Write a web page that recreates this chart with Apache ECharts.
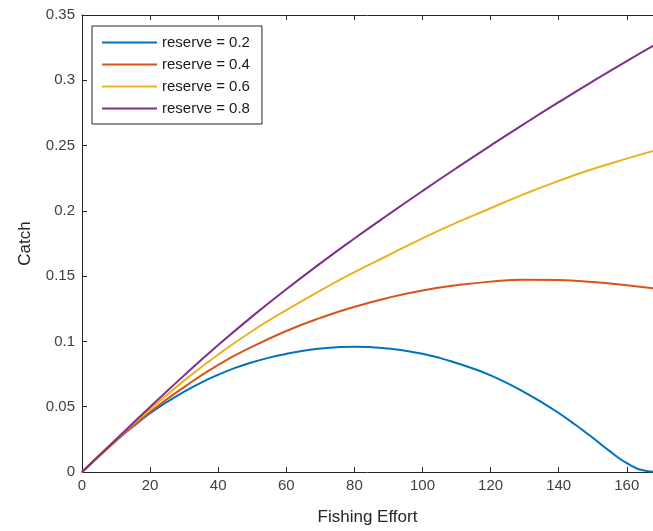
<!DOCTYPE html>
<html>
<head>
<meta charset="utf-8">
<script src="https://cdn.jsdelivr.net/npm/echarts@6/dist/echarts.min.js"></script>
<style>html,body{margin:0;padding:0;background:#fff}#c{width:653px;height:531px}</style>
</head>
<body>
<div id="c"></div>
<script>
const effort = [0, 10, 20, 30, 40, 50, 60, 70, 80, 90, 100, 110, 120, 130, 140, 150, 160, 170];
const effortFine = [0, 5, 10, 15, 20, 25, 30, 35, 40, 45, 50, 55, 60, 65, 70, 75, 80, 85, 90, 95, 100, 105, 110, 115, 120, 125, 130, 135, 140, 145, 150, 155, 160, 165, 170];
const reserve02 = [0, 0.012, 0.024, 0.0348, 0.045, 0.0537, 0.0615, 0.0685, 0.0745, 0.0797, 0.0840, 0.0876, 0.0905, 0.0928, 0.0945, 0.0956, 0.0960, 0.0956, 0.0945, 0.0928, 0.0905, 0.0874, 0.0835, 0.0791, 0.0740, 0.0678, 0.0610, 0.0535, 0.0452, 0.0360, 0.0262, 0.0160, 0.0068, 0.0012, 0];
const reserve04 = [0, 0.024, 0.046, 0.065, 0.082, 0.096, 0.108, 0.118, 0.1265, 0.1335, 0.1390, 0.1430, 0.1458, 0.1472, 0.1470, 0.1455, 0.1430, 0.1400];
const reserve06 = [0, 0.025, 0.048, 0.070, 0.090, 0.108, 0.124, 0.139, 0.153, 0.166, 0.179, 0.191, 0.202, 0.213, 0.223, 0.232, 0.240, 0.2475];
const reserve08 = [0, 0.025, 0.0498, 0.0740, 0.0972, 0.1192, 0.1400, 0.1598, 0.1788, 0.1972, 0.2152, 0.2328, 0.2500, 0.2668, 0.2832, 0.2992, 0.3147, 0.3297];
const seriesNames = ['reserve = 0.2', 'reserve = 0.4', 'reserve = 0.6', 'reserve = 0.8'];
const seriesData = [reserve02, reserve04, reserve06, reserve08];
const seriesX = [effortFine, effort, effort, effort];
const colors = ['#0072BD', '#D95319', '#EDB120', '#7E2F8E'];

const font = 'Arial, "Liberation Sans", Helvetica, sans-serif';
const axisColor = '#262626';
const labelColor = '#404040';

const chart = echarts.init(document.getElementById('c'), null, {renderer: 'canvas'});
chart.setOption({
  animation: false,
  backgroundColor: '#fff',
  color: colors,
  grid: {left: 82, top: 15, right: 0, bottom: 58, containLabel: false},
  legend: {
    orient: 'vertical',
    left: 92, top: 26,
    padding: [8, 12, 7, 10],
    itemWidth: 55, itemHeight: 2, itemGap: 5,
    icon: 'rect',
    borderColor: axisColor, borderWidth: 1, borderRadius: 0,
    backgroundColor: '#fff',
    textStyle: {fontFamily: font, fontSize: 15, color: '#1a1a1a', lineHeight: 17, padding: [0, 0, 0, 0]},
    data: seriesNames
  },
  xAxis: [{
    type: 'value', min: 0, max: 167.7, interval: 20,
    name: 'Fishing Effort', nameLocation: 'middle', nameGap: 37,
    nameTextStyle: {fontFamily: font, fontSize: 17, color: axisColor},
    axisLine: {show: true, onZero: false, lineStyle: {color: axisColor, width: 1}},
    axisTick: {show: true, inside: true, length: 5, lineStyle: {color: axisColor}},
    axisLabel: {fontFamily: font, fontSize: 15, color: labelColor, margin: 6, showMaxLabel: false},
    splitLine: {show: false}
  }, {
    type: 'value', min: 0, max: 167.7, interval: 20, position: 'top',
    axisLine: {show: true, onZero: false, lineStyle: {color: axisColor, width: 1}},
    axisTick: {show: true, inside: true, length: 5, lineStyle: {color: axisColor}},
    axisLabel: {show: false},
    splitLine: {show: false}
  }],
  yAxis: [{
    type: 'value', min: 0, max: 0.35, interval: 0.05,
    name: 'Catch', nameLocation: 'middle', nameGap: 48, nameRotate: 90,
    nameTextStyle: {fontFamily: font, fontSize: 17, color: axisColor},
    axisLine: {show: true, onZero: false, lineStyle: {color: axisColor, width: 1}},
    axisTick: {show: true, inside: true, length: 5, lineStyle: {color: axisColor}},
    axisLabel: {fontFamily: font, fontSize: 15, color: labelColor, margin: 7,
      formatter: v => String(parseFloat(v.toFixed(2)))},
    splitLine: {show: false}
  }],
  series: seriesNames.map((n, i) => ({
    name: n, type: 'line', smooth: true, showSymbol: false, clip: true,
    xAxisIndex: 0,
    lineStyle: {width: 2, color: colors[i]},
    itemStyle: {color: colors[i]},
    data: seriesX[i].map((x, j) => [x, seriesData[i][j]])
  }))
});
</script>
</body>
</html>
